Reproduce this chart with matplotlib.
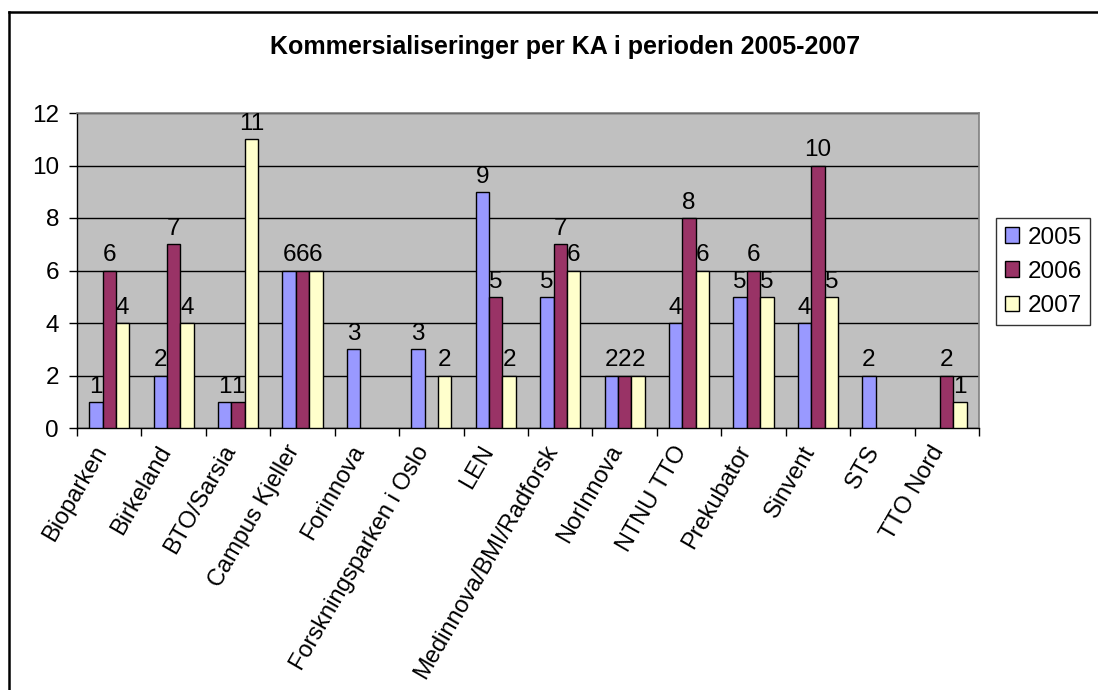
import matplotlib
matplotlib.use("Agg")
import matplotlib.pyplot as plt
import numpy as np
from matplotlib.lines import Line2D
from matplotlib.transforms import ScaledTranslation

categories = ["Bioparken", "Birkeland", "BTO/Sarsia", "Campus Kjeller", "Forinnova",
              "Forskningsparken i Oslo", "LEN", "Medinnova/BMI/Radforsk", "NorInnova",
              "NTNU TTO", "Prekubator", "Sinvent", "STS", "TTO Nord"]
v2005 = [1, 2, 1, 6, 3, 3, 9, 5, 2, 4, 5, 4, 2, None]
v2006 = [6, 7, 1, 6, None, None, 5, 7, 2, 8, 6, 10, None, 2]
v2007 = [4, 4, 11, 6, None, 2, 2, 6, 2, 6, 5, 5, None, 1]
series_names = ["2005", "2006", "2007"]
colors = ["#9999FF", "#993366", "#FFFFCC"]
title = "Kommersialiseringer per KA i perioden 2005-2007"

plt.rcParams['font.family'] = ['Liberation Sans', 'DejaVu Sans']
FS = 17.5

fig = plt.figure(figsize=(10.98, 6.90), dpi=100)
ax = fig.add_axes([77/1098, 1-428/690, (979-77)/1098, (428-113)/690])
ax.set_facecolor("#C0C0C0")

x = np.arange(len(categories))
w = 0.208
handles = []
for i, (vals, c, name) in enumerate(zip([v2005, v2006, v2007], colors, series_names)):
    xs = [xi + (i - 1) * w for xi, v in zip(x, vals) if v is not None]
    h = [v for v in vals if v is not None]
    bars = ax.bar(xs, h, width=w, color=c, edgecolor="black", linewidth=1.0, zorder=3, label=name)
    for xi, v in zip(xs, h):
        ax.annotate(str(v), (xi, v), xytext=(0, 3), textcoords="offset points",
                    ha="center", va="bottom", fontsize=FS, zorder=4)
    handles.append(bars)

ax.set_xlim(-0.5, len(categories) - 0.5)
ax.set_ylim(0, 12)
ax.set_yticks(range(0, 13, 2))
ax.tick_params(axis="y", labelsize=FS, length=6, width=1, direction="out", pad=7)
ax.yaxis.grid(True, color="black", linewidth=1, zorder=1)
ax.set_axisbelow(True)

ax.set_xticks(x)
ax.set_xticklabels(categories, rotation=60, ha="right", va="top", rotation_mode="anchor", fontsize=17)
ax.tick_params(axis="x", which="major", length=0, pad=12)
shift = ScaledTranslation(-17/100, 3/100, fig.dpi_scale_trans)
for lab in ax.get_xticklabels():
    lab.set_transform(lab.get_transform() + shift)
ax.set_xticks(np.arange(-0.5, len(categories), 1), minor=True)
ax.tick_params(axis="x", which="minor", length=6, width=1, direction="out")

for s in ["top", "right"]:
    ax.spines[s].set_color("#808080")
    ax.spines[s].set_linewidth(1.2)
for s in ["left", "bottom"]:
    ax.spines[s].set_color("black")
    ax.spines[s].set_linewidth(1.0)

leg = fig.legend(handles=handles, labels=series_names, loc="upper left",
                 bbox_to_anchor=(996/1098, 1-218/690), fontsize=FS, frameon=True,
                 fancybox=False, edgecolor="black", handlelength=0.6, handleheight=0.6,
                 handletextpad=0.35, borderpad=0.35, labelspacing=0.5, borderaxespad=0)
leg.get_frame().set_linewidth(1.0)

fig.text(565/1098, 1-47/690, title, ha="center", va="center", fontsize=18, fontweight="bold")

# outer chart border (left and top visible)
fig.add_artist(Line2D([8.5/1098, 8.5/1098], [0, 1-11.5/690], color="black", linewidth=1.8, transform=fig.transFigure))
fig.add_artist(Line2D([8.5/1098, 1], [1-11.5/690, 1-11.5/690], color="black", linewidth=1.8, transform=fig.transFigure))

fig.savefig("out.png", dpi=100)
